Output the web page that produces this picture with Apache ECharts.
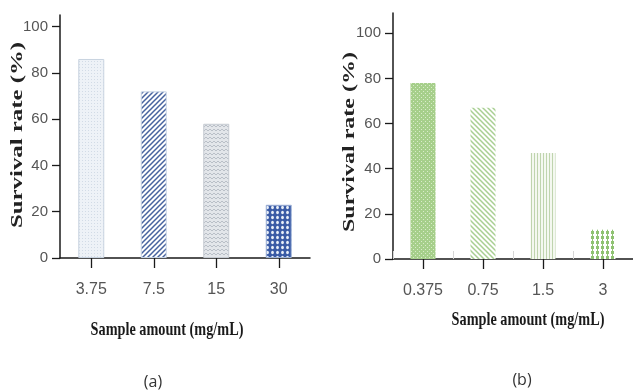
<!DOCTYPE html>
<html>
<head>
<meta charset="utf-8">
<script src="https://cdn.jsdelivr.net/npm/echarts@6/dist/echarts.min.js"></script>
<style>
  html, body { margin: 0; padding: 0; background: #fff; }
  #main { width: 633px; height: 392px; }
</style>
</head>
<body>
<div id="main"></div>
<script>
const catsA = ['3.75', '7.5', '15', '30']
const valsA = [86, 72, 58, 23]
const catsB = ['0.375', '0.75', '1.5', '3']
const valsB = [78, 67, 47, 13]
const yTicks = [0, 20, 40, 60, 80, 100]

// small canvas tiles used as bar fills
const tile = (w, h, draw) => {
  const c = document.createElement('canvas')
  c.width = w
  c.height = h
  const ctx = c.getContext('2d')
  draw(ctx, w, h)
  return { image: c, repeat: 'repeat' }
}

const dots = (bg, fg) => tile(3, 3, (ctx) => {
  ctx.fillStyle = bg
  ctx.fillRect(0, 0, 3, 3)
  ctx.fillStyle = fg
  ctx.fillRect(1, 1, 1, 1)
})

const stripes = (fg, dir) => tile(5, 5, (ctx) => {
  ctx.fillStyle = '#fff'
  ctx.fillRect(0, 0, 5, 5)
  ctx.strokeStyle = fg
  ctx.lineWidth = 1.5
  ctx.beginPath()
  if (dir > 0) {
    ctx.moveTo(-1, 6); ctx.lineTo(6, -1)
    ctx.moveTo(-1, 1); ctx.lineTo(1, -1)
    ctx.moveTo(4, 6); ctx.lineTo(6, 4)
  } else {
    ctx.moveTo(-1, -1); ctx.lineTo(6, 6)
    ctx.moveTo(4, -1); ctx.lineTo(6, 1)
    ctx.moveTo(-1, 4); ctx.lineTo(1, 6)
  }
  ctx.stroke()
})

const zigzag = tile(4, 4, (ctx) => {
  ctx.fillStyle = '#e3e6ea'
  ctx.fillRect(0, 0, 4, 4)
  ctx.strokeStyle = '#b9bfc7'
  ctx.lineWidth = 1
  ctx.beginPath()
  ctx.moveTo(0, 3); ctx.lineTo(2, 1); ctx.lineTo(4, 3)
  ctx.stroke()
})

const net = tile(5, 5, (ctx) => {
  ctx.fillStyle = '#3a5ba6'
  ctx.fillRect(0, 0, 5, 5)
  ctx.fillStyle = '#e8eef8'
  ctx.beginPath()
  ctx.ellipse(2.5, 2.5, 1.4, 1.8, 0, 0, Math.PI * 2)
  ctx.fill()
})

const hexGreen = tile(4, 4, (ctx) => {
  ctx.fillStyle = '#a6cf8b'
  ctx.fillRect(0, 0, 4, 4)
  ctx.fillStyle = '#d9ecca'
  ctx.fillRect(1, 1, 1, 1)
  ctx.fillRect(3, 3, 1, 1)
})

const vlines = tile(3, 3, (ctx) => {
  ctx.fillStyle = '#f4f8f0'
  ctx.fillRect(0, 0, 3, 3)
  ctx.fillStyle = '#bfd4ae'
  ctx.fillRect(0, 0, 1, 3)
})

const plusRows = tile(5, 5, (ctx) => {
  ctx.fillStyle = '#fff'
  ctx.fillRect(0, 0, 5, 5)
  ctx.fillStyle = '#8fc272'
  ctx.fillRect(1, 1, 3, 3)
  ctx.fillRect(2, 0, 1, 5)
})

const fillsA = [dots('#eef2f7', '#d2dbe6'), stripes('#47639f', 1), zigzag, net]
const bordersA = ['#c8d3e0', '#c9d5e6', '#c5cad1', '#9fb3d6']
const fillsB = [hexGreen, stripes('#a8cf92', -1), vlines, plusRows]

const tickFont = '"Liberation Sans", Arial, sans-serif'

const yAxisCommon = (max) => ({
  type: 'value',
  min: 0,
  max: max,
  splitLine: { show: false },
  axisLine: { show: true, lineStyle: { color: '#1a1a1a', width: 1.5 } },
  axisTick: { show: true, length: 8, customValues: yTicks, lineStyle: { color: '#1a1a1a', width: 1.3 } },
  axisLabel: { customValues: yTicks, margin: 12, color: '#555', fontSize: 15, fontFamily: tickFont },
})

const xAxisCommon = (cats, idx) => ({
  type: 'category',
  gridIndex: idx,
  data: cats,
  axisLine: { show: true, onZero: false, lineStyle: { color: '#1a1a1a', width: 1.5 } },
  axisTick: { show: true, alignWithLabel: true, length: 10, lineStyle: { color: '#1a1a1a', width: 1.3 } },
  axisLabel: { interval: 0, margin: 24, color: '#555', fontSize: 16, fontFamily: tickFont },
})

const chart = echarts.init(document.getElementById('main'), null, { renderer: 'canvas' })
const option = {
  backgroundColor: '#fff',
  animation: false,
  grid: [
    { left: 60, top: 15, width: 250, bottom: 134 },
    { left: 393, top: 13, width: 240, bottom: 133 },
  ],
  xAxis: [
    xAxisCommon(catsA, 0),
    xAxisCommon(catsB, 1),
    {
      type: 'category',
      gridIndex: 1,
      data: catsB,
      axisLine: { show: false },
      axisTick: { show: true, alignWithLabel: false, length: 8, lineStyle: { color: '#d6d6d6' } },
      axisLabel: { show: false },
    },
  ],
  yAxis: [
    Object.assign(yAxisCommon(105), { gridIndex: 0 }),
    Object.assign(yAxisCommon(109), { gridIndex: 1 }),
  ],
  series: [
    {
      type: 'bar',
      xAxisIndex: 0,
      yAxisIndex: 0,
      barWidth: 26,
      data: valsA.map((v, i) => ({
        value: v,
        itemStyle: { color: fillsA[i], borderColor: bordersA[i], borderWidth: 1 },
      })),
    },
    {
      type: 'bar',
      xAxisIndex: 1,
      yAxisIndex: 1,
      barWidth: 25,
      data: valsB.map((v, i) => ({
        value: v,
        itemStyle: { color: fillsB[i] },
      })),
    },
  ],
  graphic: [
    {
      type: 'text', x: 18, y: 135, rotation: Math.PI / 2, scaleX: 1.55,
      style: { text: 'Survival rate (%)', font: 'bold 16px "Liberation Serif", serif', fill: '#222', align: 'center', verticalAlign: 'middle' },
    },
    {
      type: 'text', x: 350, y: 142, rotation: Math.PI / 2, scaleX: 1.5,
      style: { text: 'Survival rate (%)', font: 'bold 16px "Liberation Serif", serif', fill: '#222', align: 'center', verticalAlign: 'middle' },
    },
    {
      type: 'text', x: 167, y: 330, scaleX: 0.75,
      style: { text: 'Sample amount (mg/mL)', font: 'bold 19px "Liberation Serif", serif', fill: '#1a1a1a', align: 'center', verticalAlign: 'middle' },
    },
    {
      type: 'text', x: 528, y: 320, scaleX: 0.75,
      style: { text: 'Sample amount (mg/mL)', font: 'bold 19px "Liberation Serif", serif', fill: '#1a1a1a', align: 'center', verticalAlign: 'middle' },
    },
    {
      type: 'text', x: 153, y: 382,
      style: { text: '(a)', font: '16px "Open Sans", sans-serif', fill: '#333', align: 'center', verticalAlign: 'middle' },
    },
    {
      type: 'text', x: 522, y: 380,
      style: { text: '(b)', font: '16px "Open Sans", sans-serif', fill: '#333', align: 'center', verticalAlign: 'middle' },
    },
  ],
}
chart.setOption(option)
</script>
</body>
</html>
